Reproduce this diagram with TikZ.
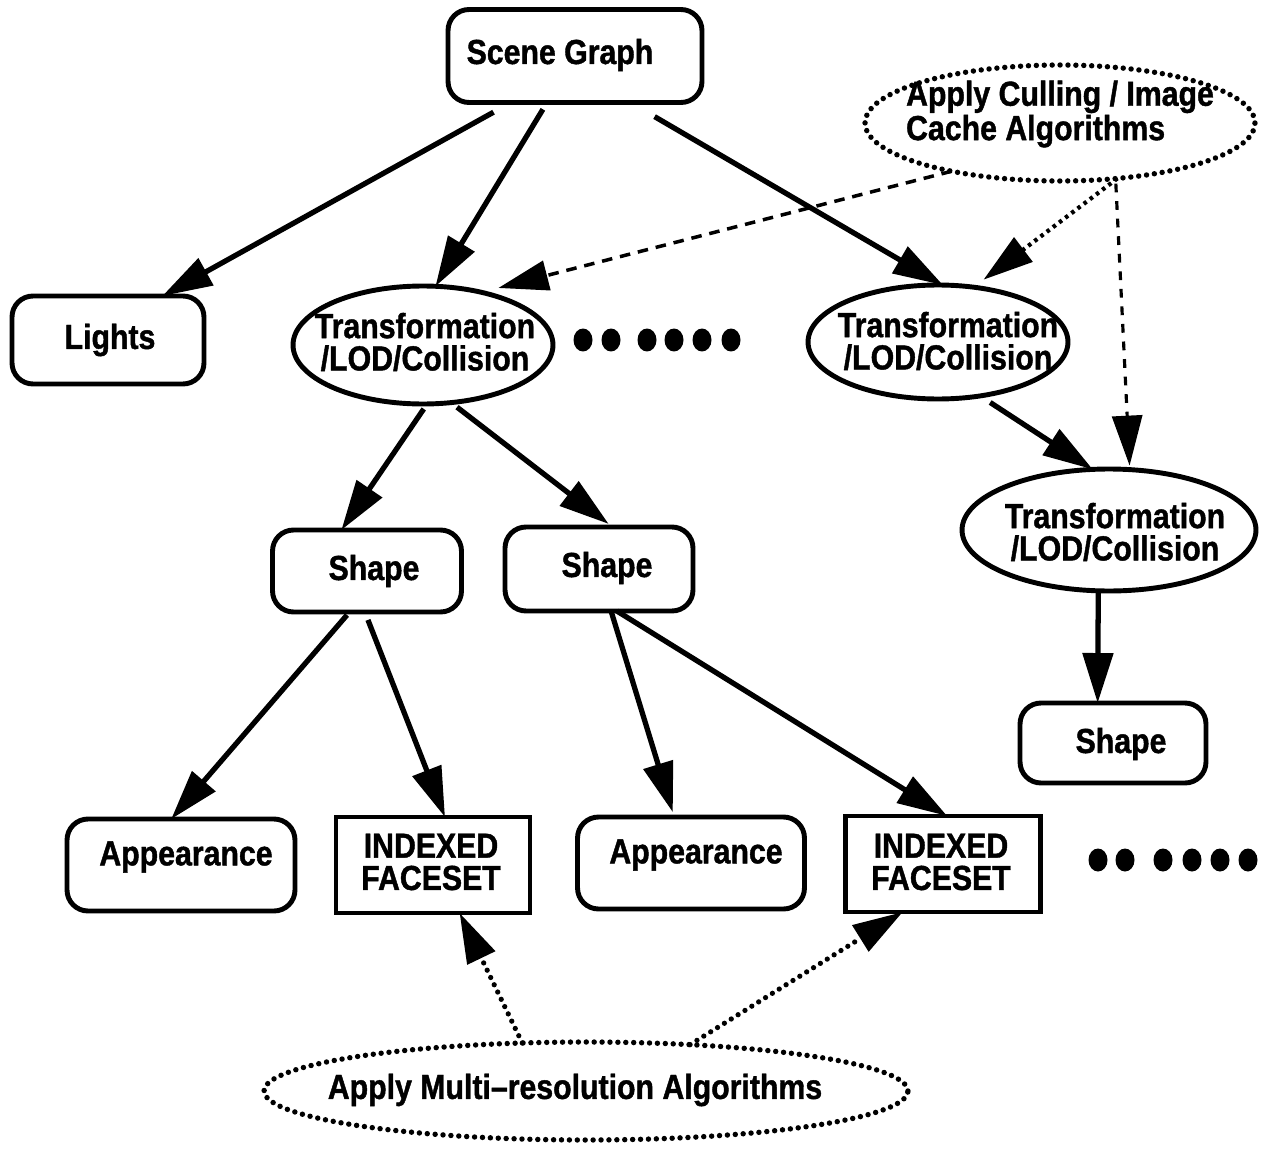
\documentclass[tikz,border=0pt]{standalone}
\usepackage{fontspec}
\setmainfont{Liberation Sans}[FakeStretch=0.87,BoldFeatures={FakeBold=1.2}]
\usetikzlibrary{shapes.geometric,arrows.meta}
\begin{document}
\begin{tikzpicture}[x=0.02cm,y=-0.02cm,
  every node/.style={inner sep=0pt,outer sep=0pt},
  lbl/.style={font=\fontsize{19.8}{18.4}\selectfont\bfseries,align=center},
  rbox/.style={draw,line width=2.8pt,rounded corners=0.42cm},
  sbox/.style={draw,line width=2.8pt},
  oval/.style={draw,ellipse,line width=2.8pt},
  dotoval/.style={draw,ellipse,line width=3.1pt,line cap=round,dash pattern=on 0pt off 4.5pt},
  arr/.style={line width=3pt,-{Triangle[length=1cm,width=0.6cm]}},
  dsh/.style={line width=2pt,dash pattern=on 6pt off 4.5pt,-{Triangle[length=1cm,width=0.6cm]}},
  dsh2/.style={line width=1.8pt,dash pattern=on 5pt off 5pt,-{Triangle[length=1cm,width=0.6cm]}},
  dtt/.style={line width=2.4pt,dash pattern=on 2pt off 2.4pt,-{Triangle[length=1cm,width=0.6cm]}},
  dotarr/.style={line width=3pt,line cap=round,dash pattern=on 0pt off 4.6pt,-{Triangle[length=1cm,width=0.6cm]}},
  dot/.style={fill=black}
]
\useasboundingbox (0,0) rectangle (1267,1162);

% nodes
\node[rbox,minimum width=5.08cm,minimum height=1.86cm] (sg) at (575,56) {};
\node[lbl] (sgt) at (560,55) {Scene Graph};

\node[dotoval,minimum width=7.8cm,minimum height=2.32cm] (cull) at (1060,123) {};
\node[lbl,align=left] (cullt) at (1060,114) {Apply Culling / Image\\Cache Algorithms};

\node[rbox,minimum width=3.84cm,minimum height=1.76cm] (lights) at (108,340) {};
\node[lbl] (lightst) at (110,340) {Lights};

\node[oval,minimum width=5.2cm,minimum height=2.36cm] (t1) at (423,345) {};
\node[lbl] (t1t) at (425,342) {Transformation\\/LOD/Collision};

\node[oval,minimum width=5.2cm,minimum height=2.28cm] (t2) at (938,342) {};
\node[lbl] (t2t) at (948,341) {Transformation\\/LOD/Collision};

\node[oval,minimum width=5.88cm,minimum height=2.44cm] (t3) at (1109,530) {};
\node[lbl] (t3t) at (1115,532) {Transformation\\/LOD/Collision};

\node[rbox,minimum width=3.78cm,minimum height=1.64cm] (s1) at (367,571) {};
\node[lbl] (s1t) at (374,571) {Shape};

\node[rbox,minimum width=3.76cm,minimum height=1.68cm] (s2) at (599,569) {};
\node[lbl] (s2t) at (607,568) {Shape};

\node[rbox,minimum width=3.72cm,minimum height=1.6cm] (s3) at (1113,743) {};
\node[lbl] (s3t) at (1121,744) {Shape};

\node[rbox,minimum width=4.56cm,minimum height=1.84cm] (a1) at (181,865) {};
\node[lbl] (a1t) at (186,857) {Appearance};

\node[sbox,minimum width=3.88cm,minimum height=1.92cm] (f1) at (433,865) {};
\node[lbl] (f1t) at (431,862) {INDEXED\\FACESET};

\node[rbox,minimum width=4.54cm,minimum height=1.84cm] (a2) at (691,863) {};
\node[lbl] (a2t) at (696,855) {Appearance};

\node[sbox,minimum width=3.9cm,minimum height=1.92cm] (f2) at (943,864) {};
\node[lbl] (f2t) at (941,862) {INDEXED\\FACESET};

\node[dotoval,minimum width=12.88cm,minimum height=1.96cm] (multi) at (586,1091) {};
\node[lbl] (multit) at (575,1090) {Apply Multi–resolution Algorithms};

% ellipsis dots
\foreach \x in {583,611,647,674,702,731}
  \fill[dot] (\x,340) ellipse [x radius=0.19cm,y radius=0.23cm];
\foreach \x in {1098,1125,1163,1192,1220,1248}
  \fill[dot] (\x,860) ellipse [x radius=0.19cm,y radius=0.23cm];

% connectors
\draw[arr,shorten <=0.4cm] (sg.-144) -- (lights.39);
\draw[arr,shorten <=0.16cm] (sg.-121) -- (t1.78);
\draw[arr,shorten <=0.56cm] (sg.-40) -- (t2.85);
\draw[dsh,shorten >=0.35cm] (cull.-156) -- (t1.42);
\draw[dtt,shorten >=0.25cm] (cull.-44) -- (t2.57);
\draw[dsh2,shorten <=0.1cm,shorten >=0.08cm] (cull.-45) -- (t3.71);
\draw[arr,shorten <=0.24cm] (t2.-52) -- (t3.105);
\draw[arr,shorten <=0.12cm] (t1.-86) -- (s1.122);
\draw[arr,shorten <=0.15cm,shorten >=0.1cm] (t1.-64) -- (s2.72);
\draw[arr,shorten <=0.08cm] (s1.-113) -- (a1.102);
\draw[arr,shorten <=0.17cm] (s1.-93) -- (f1.76);
\draw[arr,shorten >=0.1cm] (s2.-74) -- (a2.110);
\draw[arr] (s2.-67) -- (f2.85);
\draw[arr] (t3.-100) -- (s3.111);
\draw[dotarr] (multi.143) -- (f1.-61);
\draw[dotarr] (multi.24) -- (f2.-130);
\end{tikzpicture}
\end{document}
